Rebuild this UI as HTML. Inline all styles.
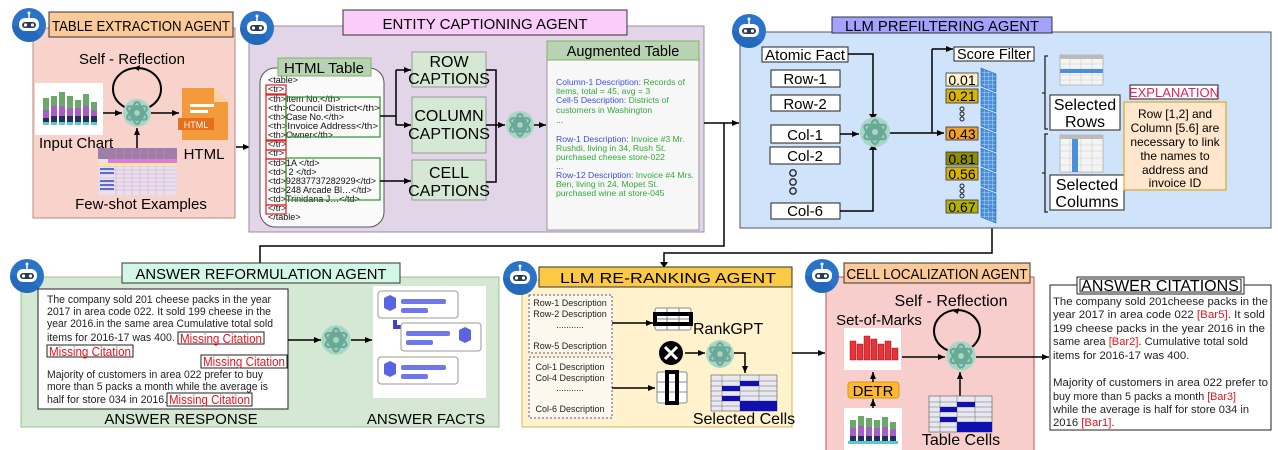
<!DOCTYPE html>
<html><head><meta charset="utf-8"><style>
html,body{margin:0;padding:0;background:#fff;}
svg{display:block;}
text{font-family:"Liberation Sans",Arial,sans-serif;}
.mono{font-family:"Liberation Mono",monospace;}
</style></head><body>
<svg width="1278" height="450" viewBox="0 0 1278 450" xmlns="http://www.w3.org/2000/svg">
<defs>
<marker id="ar" markerWidth="8" markerHeight="8" refX="7" refY="4" orient="auto" markerUnits="userSpaceOnUse"><path d="M0,1 L7,4 L0,7 z" fill="#000"/></marker>
<g id="gpt">
<circle r="14" fill="#a9d6c6"/>
<g fill="none" stroke="#6aa996" stroke-width="2.2">
<ellipse rx="4" ry="9" transform="rotate(0) translate(0,-2)"/>
<ellipse rx="4" ry="9" transform="rotate(60) translate(0,-2)"/>
<ellipse rx="4" ry="9" transform="rotate(120) translate(0,-2)"/>
<ellipse rx="4" ry="9" transform="rotate(180) translate(0,-2)"/>
<ellipse rx="4" ry="9" transform="rotate(240) translate(0,-2)"/>
<ellipse rx="4" ry="9" transform="rotate(300) translate(0,-2)"/>
</g>
</g>
<g id="bot">
<circle r="17" fill="#2a73c9"/>
<path d="M-17,0 A17,17 0 0,0 12,12 L0,0z" fill="#1f5fae" opacity="0.5"/>
<line x1="0" y1="-12" x2="0" y2="-7" stroke="#fff" stroke-width="1.5"/>
<circle cx="0" cy="-12" r="1.5" fill="#fff"/>
<rect x="-10" y="-7" width="20" height="13" rx="6" fill="#fff"/>
<rect x="-7" y="-3" width="14" height="6" rx="3" fill="#2b3a55"/>
<circle cx="-3.5" cy="0" r="1.6" fill="#fff"/><circle cx="3.5" cy="0" r="1.6" fill="#fff"/>
</g>
<pattern id="bgrid" width="4" height="4" patternUnits="userSpaceOnUse"><rect width="4" height="4" fill="#4a8fd8"/><path d="M0,0H4M0,0V4" stroke="#cfe3fa" stroke-width="0.8"/></pattern>
</defs>

<!-- ============ TABLE EXTRACTION ============ -->
<rect x="33" y="28" width="202" height="190" fill="#f8d3cc" stroke="#b88a84"/>
<rect x="49" y="12" width="184" height="25" fill="#fcc998" stroke="#333"/>
<text x="141" y="31" font-size="15" text-anchor="middle" textLength="178" lengthAdjust="spacingAndGlyphs">TABLE EXTRACTION AGENT</text>
<use href="#bot" transform="translate(29,25)"/>
<text x="132" y="64" font-size="15" text-anchor="middle">Self - Reflection</text>
<ellipse cx="137" cy="89" rx="24" ry="21" fill="none" stroke="#000" stroke-width="2"/>
<path d="M134,68 l6,-3 l-1,6z" fill="#000"/>
<rect x="35" y="83" width="68" height="52" fill="#fff"/>
<g>
<rect x="43" y="98" width="6" height="12" fill="#6aa96a"/><rect x="43" y="110" width="6" height="8" fill="#a65fc6"/><rect x="43" y="118" width="6" height="4" fill="#23305e"/><rect x="43" y="122" width="6" height="3" fill="#5cc8c8"/>
<rect x="51" y="96" width="6" height="10" fill="#6aa96a"/><rect x="51" y="106" width="6" height="10" fill="#a65fc6"/><rect x="51" y="116" width="6" height="6" fill="#23305e"/><rect x="51" y="122" width="6" height="3" fill="#5cc8c8"/>
<rect x="59" y="92" width="6" height="14" fill="#6aa96a"/><rect x="59" y="106" width="6" height="10" fill="#a65fc6"/><rect x="59" y="116" width="6" height="6" fill="#23305e"/><rect x="59" y="122" width="6" height="3" fill="#5cc8c8"/>
<rect x="67" y="96" width="6" height="12" fill="#6aa96a"/><rect x="67" y="108" width="6" height="8" fill="#a65fc6"/><rect x="67" y="116" width="6" height="6" fill="#23305e"/><rect x="67" y="122" width="6" height="3" fill="#5cc8c8"/>
<rect x="75" y="100" width="6" height="8" fill="#6aa96a"/><rect x="75" y="108" width="6" height="8" fill="#a65fc6"/><rect x="75" y="116" width="6" height="6" fill="#23305e"/><rect x="75" y="122" width="6" height="3" fill="#5cc8c8"/>
<rect x="83" y="94" width="6" height="12" fill="#6aa96a"/><rect x="83" y="106" width="6" height="10" fill="#a65fc6"/><rect x="83" y="116" width="6" height="6" fill="#23305e"/><rect x="83" y="122" width="6" height="3" fill="#5cc8c8"/>
<rect x="91" y="102" width="6" height="8" fill="#6aa96a"/><rect x="91" y="110" width="6" height="6" fill="#a65fc6"/><rect x="91" y="116" width="6" height="6" fill="#23305e"/><rect x="91" y="122" width="6" height="3" fill="#5cc8c8"/>
</g>
<text x="39" y="148" font-size="15">Input Chart</text>
<line x1="103" y1="113" x2="122" y2="113" stroke="#000" stroke-width="1.5" marker-end="url(#ar)"/>
<use href="#gpt" transform="translate(137,113)"/>
<line x1="151" y1="113" x2="179" y2="113" stroke="#000" stroke-width="1.5" marker-end="url(#ar)"/>
<path d="M182,88 h32 l14,14 v38 h-46z" fill="#f39a3c"/>
<path d="M214,88 v14 h14z" fill="#fbd1a6"/>
<rect x="190" y="104" width="24" height="3" fill="#fff"/><rect x="190" y="110" width="18" height="3" fill="#fff"/>
<rect x="178" y="118" width="36" height="12" fill="#e56f1c"/>
<text x="196" y="128" font-size="9" fill="#fff" text-anchor="middle">HTML</text>
<text x="204" y="159" font-size="15" text-anchor="middle">HTML</text>
<rect x="98" y="148" width="79" height="47" fill="#e8e0ee"/>
<rect x="98" y="148" width="79" height="11" fill="#9f7fa8"/>
<rect x="108" y="159" width="69" height="5" fill="#e079e0"/>
<g stroke="#c9b" stroke-width="0.4">
<path d="M98,166H177M98,170H177M98,174H177M98,178H177M98,182H177M98,186H177M98,190H177"/>
<path d="M116,148V195M124,148V195M132,148V195M140,148V195M148,148V195M156,148V195M164,148V195"/>
</g>
<g fill="#5b6fc6"><rect x="100" y="168" width="14" height="2"/><rect x="100" y="172" width="14" height="2"/><rect x="100" y="180" width="14" height="2"/><rect x="100" y="184" width="14" height="2"/><rect x="100" y="188" width="14" height="2"/></g>
<rect x="98" y="163" width="79" height="3" fill="#f5e99a"/>
<line x1="137" y1="148" x2="137" y2="128" stroke="#000" stroke-width="1.5" marker-end="url(#ar)"/>
<text x="141" y="209" font-size="15" text-anchor="middle">Few-shot Examples</text>
<line x1="236" y1="147" x2="250" y2="147" stroke="#000" stroke-width="1.5" marker-end="url(#ar)"/>

<!-- ============ ENTITY CAPTIONING ============ -->
<rect x="249" y="26" width="455" height="206" fill="#e1d5e7" stroke="#9b8aa6"/>
<rect x="343" y="10" width="284" height="25" fill="#f9ccf9" stroke="#333"/>
<text x="485" y="29" font-size="15" text-anchor="middle" textLength="205" lengthAdjust="spacingAndGlyphs">ENTITY CAPTIONING AGENT</text>
<use href="#bot" transform="translate(257,28)"/>
<rect x="260" y="68" width="124" height="159" rx="15" fill="#fafafa" stroke="#555"/>
<rect x="278" y="58" width="93" height="18" fill="#b8d3b4" stroke="#82b366"/>
<text x="324" y="73" font-size="15" text-anchor="middle">HTML Table</text>
<g class="mono" font-size="9" fill="#111">
<text x="268" y="83">&lt;table&gt;</text>
<text x="268" y="92">&lt;tr&gt;</text>
<text x="268" y="102">&lt;th&gt;Item No.&lt;/th&gt;</text>
<text x="268" y="111" textLength="112" lengthAdjust="spacingAndGlyphs">&lt;th&gt;Council District&lt;/th&gt;</text>
<text x="268" y="120">&lt;th&gt;Case No.&lt;/th&gt;</text>
<text x="268" y="129" textLength="110" lengthAdjust="spacingAndGlyphs">&lt;th&gt;Invoice Address&lt;/th&gt;</text>
<text x="268" y="138">&lt;th&gt;Owner&lt;/th&gt;</text>
<text x="268" y="147">&lt;/tr&gt;</text>
<text x="268" y="156">&lt;tr&gt;</text>
<text x="268" y="166">&lt;td&gt;1A &lt;/td&gt;</text>
<text x="268" y="175">&lt;td&gt; 2 &lt;/td&gt;</text>
<text x="268" y="184" textLength="108" lengthAdjust="spacingAndGlyphs">&lt;td&gt;92837737282929&lt;/td&gt;</text>
<text x="268" y="193">&lt;td&gt;248 Arcade Bl…&lt;/td&gt;</text>
<text x="268" y="202">&lt;td&gt;Trinidana J…&lt;/td&gt;</text>
<text x="268" y="211">&lt;/tr&gt;</text>
<text x="268" y="220">&lt;/table&gt;</text>
</g>
<g fill="none" stroke="#e02020" stroke-width="1.2">
<rect x="266" y="85" width="20" height="9"/>
<rect x="266" y="95" width="20" height="45"/>
<rect x="266" y="141" width="20" height="9"/>
<rect x="266" y="150" width="20" height="9"/>
<rect x="266" y="159" width="20" height="46"/>
<rect x="266" y="205" width="20" height="9"/>
</g>
<g fill="none" stroke="#2a9a2a" stroke-width="1.2">
<rect x="286" y="97" width="94" height="40"/>
<rect x="286" y="158" width="94" height="42"/>
</g>
<rect x="412" y="52" width="74" height="35" fill="#d5e8d4" stroke="#999"/>
<text x="449" y="67" font-size="16" text-anchor="middle">ROW</text>
<text x="449" y="84" font-size="16" text-anchor="middle">CAPTIONS</text>
<rect x="412" y="97" width="74" height="56" fill="#d5e8d4" stroke="#999"/>
<text x="449" y="121" font-size="16" text-anchor="middle">COLUMN</text>
<text x="449" y="139" font-size="16" text-anchor="middle">CAPTIONS</text>
<rect x="412" y="160" width="74" height="40" fill="#d5e8d4" stroke="#999"/>
<text x="449" y="178" font-size="16" text-anchor="middle">CELL</text>
<text x="449" y="196" font-size="16" text-anchor="middle">CAPTIONS</text>
<g stroke="#000" stroke-width="1.5" fill="none">
<path d="M380,116 H396 M396,70 V125"/>
<line x1="396" y1="70" x2="411" y2="70" marker-end="url(#ar)"/>
<line x1="396" y1="125" x2="411" y2="125" marker-end="url(#ar)"/>
<line x1="380" y1="181" x2="411" y2="181" marker-end="url(#ar)"/>
<path d="M486,70 H496 V182 H486"/>
<line x1="486" y1="125" x2="505" y2="125" marker-end="url(#ar)"/>
<line x1="534" y1="125" x2="546" y2="125" marker-end="url(#ar)"/>
</g>
<use href="#gpt" transform="translate(520,125)"/>
<rect x="547" y="48" width="152" height="182" fill="#f7f7f7" stroke="#999"/>
<rect x="547" y="41" width="152" height="19" fill="#b8d3b4" stroke="#82b366"/>
<text x="623" y="56" font-size="14.5" text-anchor="middle">Augmented Table</text>
<g font-size="8.6">
<text x="556" y="85"><tspan fill="#3b4fe0">Column-1 Description:</tspan><tspan fill="#2faa3a"> Records of</tspan></text>
<text x="556" y="94" fill="#2faa3a">items, total = 45, avg = 3</text>
<text x="556" y="103"><tspan fill="#3b4fe0">Cell-5 Description:</tspan><tspan fill="#2faa3a"> Districts of</tspan></text>
<text x="556" y="113" fill="#2faa3a">customers in Washington</text>
<text x="556" y="123" fill="#555">...</text>
<text x="556" y="142"><tspan fill="#3b4fe0">Row-1 Description:</tspan><tspan fill="#2faa3a"> Invoice #3 Mr.</tspan></text>
<text x="556" y="151" fill="#2faa3a">Rushdi, living in 34, Rush St.</text>
<text x="556" y="160" fill="#2faa3a">purchased cheese store-022</text>
<text x="556" y="169" fill="#555">...</text>
<text x="556" y="178"><tspan fill="#3b4fe0">Row-12 Description:</tspan><tspan fill="#2faa3a"> Invoice #4 Mrs.</tspan></text>
<text x="556" y="187" fill="#2faa3a">Ben, living in 24, Mopet St.</text>
<text x="556" y="196" fill="#2faa3a">purchased wine at store-045</text>
</g>

<g stroke="#000" stroke-width="1.5" fill="none">
<line x1="704" y1="123" x2="739" y2="123" marker-end="url(#ar)"/>
<path d="M724,123 V246 H260 V263"/>
<path d="M992,228 V253 H664 V264"/>
</g>
<path d="M660,262 l4,6 l4,-6z" fill="#000"/>

<!-- ============ PREFILTER ============ -->
<rect x="740" y="32" width="531" height="196" fill="#cfe3fb" stroke="#555"/>
<rect x="832" y="17" width="220" height="16" fill="#a3a3ff" stroke="#333"/>
<text x="942" y="31" font-size="15" text-anchor="middle" textLength="194" lengthAdjust="spacingAndGlyphs">LLM PREFILTERING AGENT</text>
<use href="#bot" transform="translate(749,31)"/>
<g fill="#fff" stroke="#222">
<rect x="762" y="47" width="86" height="15"/>
<rect x="771" y="70" width="69" height="17"/>
<rect x="771" y="95" width="69" height="16"/>
<rect x="771" y="125" width="69" height="18"/>
<rect x="770" y="147" width="70" height="17"/>
<rect x="771" y="203" width="69" height="16"/>
</g>
<g font-size="15" text-anchor="middle">
<text x="805" y="60" textLength="80" lengthAdjust="spacingAndGlyphs">Atomic Fact</text>
<text x="805" y="84">Row-1</text>
<text x="805" y="109">Row-2</text>
<text x="805" y="140">Col-1</text>
<text x="805" y="161">Col-2</text>
<text x="805" y="216">Col-6</text>
</g>
<g fill="none" stroke="#222" stroke-width="1.3"><circle cx="793" cy="173" r="3.2"/><circle cx="793" cy="182" r="3.2"/><circle cx="793" cy="191" r="3.2"/></g>
<g stroke="#000" stroke-width="1.5" fill="none">
<path d="M848,54 H873 V116"/>
<path d="M840,211 H873 V148"/>
<line x1="840" y1="134" x2="859" y2="134" marker-end="url(#ar)"/>
<line x1="889" y1="133" x2="944" y2="133" marker-end="url(#ar)"/>
<path d="M932,133 V49"/>
<line x1="932" y1="49" x2="953" y2="49" marker-end="url(#ar)"/>
</g>
<path d="M869,114 l4,6 l4,-6z M869,150 l4,-6 l4,6z" fill="#000"/>
<use href="#gpt" transform="translate(875,132) scale(1.08)"/>
<rect x="954" y="47" width="80" height="14" fill="#fff" stroke="#222"/>
<text x="994" y="59" font-size="15" text-anchor="middle" textLength="74" lengthAdjust="spacingAndGlyphs">Score Filter</text>
<g stroke="#333" stroke-width="0.8">
<rect x="946" y="73" width="32" height="13" fill="#fff2cc"/>
<rect x="946" y="89" width="32" height="14" fill="#d9b700"/>
<rect x="946" y="127" width="32" height="13" fill="#f0a02a"/>
<rect x="946" y="152" width="32" height="13" fill="#8e8e00"/>
<rect x="946" y="167" width="32" height="13" fill="#d5b300"/>
<rect x="946" y="200" width="32" height="13" fill="#b5b300"/>
</g>
<g font-size="14" text-anchor="middle">
<text x="962" y="85">0.01</text><text x="962" y="101">0.21</text><text x="962" y="139">0.43</text>
<text x="962" y="164">0.81</text><text x="962" y="179">0.56</text><text x="962" y="212">0.67</text>
</g>
<g fill="none" stroke="#222" stroke-width="1"><circle cx="962" cy="109" r="2"/><circle cx="962" cy="114" r="2"/><circle cx="962" cy="119" r="2"/><circle cx="962" cy="186" r="2"/><circle cx="962" cy="191" r="2"/><circle cx="962" cy="196" r="2"/></g>
<g stroke="#2a6cb8" stroke-width="0.6">
<path d="M981,68 L996,74 V92 L981,86z" fill="url(#bgrid)"/>
<path d="M981,88 L996,94 V112 L981,106z" fill="url(#bgrid)"/>
<path d="M981,108 L996,114 V132 L981,126z" fill="url(#bgrid)"/>
<path d="M981,128 L996,134 V152 L981,146z" fill="url(#bgrid)"/>
<path d="M981,148 L996,154 V172 L981,166z" fill="url(#bgrid)"/>
<path d="M981,168 L996,174 V192 L981,186z" fill="url(#bgrid)"/>
<path d="M981,188 L996,194 V212 L981,206z" fill="url(#bgrid)"/>
<path d="M981,205 L996,211 V223 L981,217z" fill="url(#bgrid)"/>
</g>
<g fill="none" stroke="#222" stroke-width="1.3">
<path d="M1048,56 h-3 v73 h3 M1045,93 h-3"/>
<path d="M1048,134 h-3 v78 h3 M1045,173 h-3"/>
</g>
<g>
<rect x="1060" y="55" width="43" height="30" fill="#f4f4f4" stroke="#bbb"/>
<rect x="1060" y="55" width="43" height="4" fill="#bbb"/>
<path d="M1060,64H1103M1060,69H1103M1060,75H1103M1060,80H1103M1070,59V85M1081,59V85M1092,59V85" stroke="#ccc" stroke-width="0.6"/>
<rect x="1060" y="69" width="43" height="4" fill="#4a90d9"/>
<rect x="1060" y="135" width="43" height="37" fill="#f4f4f4" stroke="#bbb"/>
<rect x="1060" y="135" width="43" height="4" fill="#bbb"/>
<path d="M1060,145H1103M1060,151H1103M1060,158H1103M1060,165H1103M1070,139V172M1081,139V172M1092,139V172" stroke="#ccc" stroke-width="0.6"/>
<rect x="1072" y="139" width="6" height="33" fill="#4a90d9"/>
</g>
<rect x="1050" y="95" width="70" height="35" fill="#fff" stroke="#222"/>
<text x="1085" y="110" font-size="16" text-anchor="middle">Selected</text>
<text x="1085" y="127" font-size="16" text-anchor="middle">Rows</text>
<rect x="1050" y="175" width="74" height="35" fill="#fff" stroke="#222"/>
<text x="1087" y="190" font-size="16" text-anchor="middle">Selected</text>
<text x="1087" y="207" font-size="16" text-anchor="middle">Columns</text>
<rect x="1130" y="85" width="88" height="14" fill="#fff" stroke="#222"/>
<text x="1174" y="97" font-size="13" fill="#e0245e" text-anchor="middle">EXPLANATION</text>
<rect x="1124" y="102" width="102" height="88" fill="#ffe6cc" stroke="#d79b00"/>
<g font-size="12" text-anchor="middle">
<text x="1175" y="118">Row [1,2] and</text>
<text x="1175" y="132">Column [5.6] are</text>
<text x="1175" y="146">necessary to link</text>
<text x="1175" y="160">the names to</text>
<text x="1175" y="174">address and</text>
<text x="1175" y="187">invoice ID</text>
</g>

<!-- ============ ANSWER REFORMULATION ============ -->
<rect x="21" y="277" width="478" height="150" fill="#d5e8d4" stroke="#9bbf93"/>
<rect x="122" y="263" width="278" height="20" fill="#d3f7e6" stroke="#333"/>
<text x="261" y="279" font-size="15" text-anchor="middle" textLength="251" lengthAdjust="spacingAndGlyphs">ANSWER REFORMULATION AGENT</text>
<use href="#bot" transform="translate(27,276)"/>
<rect x="38" y="289" width="250" height="120" fill="#fff" stroke="#222"/>
<g font-size="10.6" fill="#222">
<text x="47" y="303" textLength="224" lengthAdjust="spacingAndGlyphs">The company sold 201 cheese packs in the year</text>
<text x="47" y="315" textLength="224" lengthAdjust="spacingAndGlyphs">2017 in area code 022. It sold 199 cheese in the</text>
<text x="47" y="327" textLength="226" lengthAdjust="spacingAndGlyphs">year 2016.in the same area Cumulative total sold</text>
<text x="47" y="341">items for 2016-17 was 400.</text>
<text x="47" y="378" textLength="216" lengthAdjust="spacingAndGlyphs">Majority of customers in area 022 prefer to buy</text>
<text x="47" y="390" textLength="221" lengthAdjust="spacingAndGlyphs">more than 5 packs a month while the average is</text>
<text x="47" y="403">half for store 034 in 2016.</text>
</g>
<g fill="#fff" stroke="#222"><rect x="178" y="332" width="86" height="12"/><rect x="47" y="345" width="86" height="12"/><rect x="201" y="355" width="86" height="13"/><rect x="167" y="393" width="85" height="13"/></g>
<g font-size="12.5" fill="#e8141e">
<text x="180" y="343" textLength="82" lengthAdjust="spacingAndGlyphs">Missing Citation</text>
<text x="49" y="356" textLength="82" lengthAdjust="spacingAndGlyphs">Missing Citation</text>
<text x="203" y="366" textLength="82" lengthAdjust="spacingAndGlyphs">Missing Citation</text>
<text x="169" y="404" textLength="81" lengthAdjust="spacingAndGlyphs">Missing Citation</text>
</g>
<g stroke="#000" stroke-width="1.5"><line x1="288" y1="340" x2="321" y2="340" marker-end="url(#ar)"/><line x1="351" y1="340" x2="372" y2="340" marker-end="url(#ar)"/></g>
<use href="#gpt" transform="translate(336,340) scale(1.05)"/>
<rect x="373" y="286" width="113" height="112" fill="#fff"/>
<path d="M395,320 V327 H445 V336 M445,360 V370 H395 V378" fill="none" stroke="#3d46c4" stroke-width="4"/>
<g fill="#fff" stroke="#999"><rect x="378" y="291" width="80" height="27" rx="3"/><rect x="401" y="323" width="80" height="28" rx="3"/><rect x="378" y="357" width="80" height="27" rx="3"/></g>
<g fill="#5a63e0"><path d="M384,298 l6,-3 l6,3 v10 l-6,3 l-6,-3z"/><path d="M459,330 l6,-3 l6,3 v10 l-6,3 l-6,-3z"/><path d="M384,364 l6,-3 l6,3 v10 l-6,3 l-6,-3z"/></g>
<g fill="#6f78ea"><rect x="401" y="299" width="45" height="5" rx="2"/><rect x="401" y="308" width="27" height="5" rx="2"/><rect x="406" y="331" width="44" height="5" rx="2"/><rect x="406" y="340" width="27" height="5" rx="2"/><rect x="401" y="365" width="45" height="5" rx="2"/><rect x="401" y="374" width="27" height="5" rx="2"/></g>
<text x="181" y="424" font-size="15" text-anchor="middle">ANSWER RESPONSE</text>
<text x="426" y="424" font-size="15" text-anchor="middle">ANSWER FACTS</text>

<!-- ============ RE-RANKING ============ -->
<rect x="522" y="280" width="270" height="147" fill="#fff2cc" stroke="#d6b656"/>
<rect x="539" y="267" width="253" height="20" fill="#fcc944" stroke="#333"/>
<text x="668" y="283" font-size="15" text-anchor="middle" textLength="216" lengthAdjust="spacingAndGlyphs">LLM RE-RANKING AGENT</text>
<use href="#bot" transform="translate(520,278)"/>
<g fill="#fcf8ee" stroke="#5a4fa0" stroke-dasharray="2,2"><rect x="529" y="295" width="83" height="58"/><rect x="529" y="357" width="83" height="61"/></g>
<g font-size="9" text-anchor="middle" fill="#222">
<text x="570" y="306">Row-1 Description</text>
<text x="570" y="317">Row-2 Description</text>
<text x="570" y="328">...........</text>
<text x="570" y="349">Row-5 Description</text>
<text x="570" y="370">Col-1 Description</text>
<text x="570" y="381">Col-4 Description</text>
<text x="570" y="391">...........</text>
<text x="570" y="412">Col-6 Description</text>
</g>
<g stroke="#000" stroke-width="1.5"><line x1="612" y1="323" x2="653" y2="323" marker-end="url(#ar)"/><line x1="612" y1="388" x2="655" y2="388" marker-end="url(#ar)"/><line x1="685" y1="353" x2="705" y2="353" marker-end="url(#ar)"/>
<path d="M734,353 H745 V373" fill="none" marker-end="url(#ar)"/></g>
<rect x="655" y="308" width="36" height="22" fill="#fff" stroke="#888" rx="2"/>
<path d="M667,308V330M679,308V330M655,319H691" stroke="#888"/>
<rect x="655" y="314" width="36" height="10" fill="none" stroke="#000" stroke-width="4"/>
<rect x="657" y="372" width="30" height="31" fill="#fff" stroke="#888" rx="2"/>
<path d="M667,372V403M677,372V403M657,382H687M657,392H687" stroke="#888"/>
<rect x="667" y="372" width="10" height="31" fill="none" stroke="#000" stroke-width="4"/>
<circle cx="671" cy="353" r="12" fill="#000"/>
<path d="M665,347L677,359M677,347L665,359" stroke="#fff" stroke-width="3"/>
<text x="693" y="334" font-size="16">RankGPT</text>
<use href="#gpt" transform="translate(720,354)"/>
<g>
<rect x="711" y="375" width="66" height="36" fill="#e8e8f0" stroke="#555" stroke-width="0.6"/>
<path d="M711,381H777M711,386H777M711,391H777M711,396H777M711,401H777M711,406H777M722,375V411M740,375V411M759,375V411" stroke="#666" stroke-width="0.5"/>
<g fill="#1010b0"><rect x="722" y="386" width="18" height="5"/><rect x="740" y="381" width="19" height="5"/><rect x="722" y="396" width="18" height="5"/><rect x="740" y="401" width="37" height="10"/></g>
</g>
<text x="744" y="424" font-size="16" text-anchor="middle">Selected Cells</text>
<line x1="792" y1="353" x2="825" y2="353" stroke="#000" stroke-width="1.5" marker-end="url(#ar)"/>

<!-- ============ CELL LOCALIZATION ============ -->
<rect x="826" y="277" width="208" height="180" fill="#f8cecc" stroke="#b85450"/>
<rect x="844" y="263" width="186" height="20" fill="#fcc998" stroke="#333"/>
<text x="937" y="279" font-size="15" text-anchor="middle" textLength="181" lengthAdjust="spacingAndGlyphs">CELL LOCALIZATION AGENT</text>
<use href="#bot" transform="translate(822,276)"/>
<text x="951" y="306" font-size="16" text-anchor="middle">Self - Reflection</text>
<ellipse cx="957" cy="331" rx="23" ry="21" fill="none" stroke="#000" stroke-width="2"/>
<path d="M953,311 l6,-3 l-1,6z" fill="#000"/>
<text x="879" y="325" font-size="15" text-anchor="middle">Set-of-Marks</text>
<rect x="844" y="328" width="57" height="42" fill="#fff"/>
<g fill="#e8333a" stroke="#800" stroke-width="0.4"><rect x="850" y="341" width="6" height="19"/><rect x="857" y="344" width="6" height="16"/><rect x="864" y="336" width="6" height="24"/><rect x="871" y="339" width="6" height="21"/><rect x="878" y="344" width="6" height="16"/><rect x="885" y="341" width="6" height="19"/><rect x="892" y="348" width="6" height="12"/></g>
<line x1="902" y1="357" x2="945" y2="357" stroke="#000" stroke-width="1.5" marker-end="url(#ar)"/>
<use href="#gpt" transform="translate(961,356) scale(1.05)"/>
<rect x="848" y="382" width="51" height="16" rx="3" fill="#ffb833" stroke="#d79b00"/>
<text x="873" y="396" font-size="15" text-anchor="middle">DETR</text>
<g stroke="#000" stroke-width="1.5"><line x1="873" y1="382" x2="873" y2="372" marker-end="url(#ar)"/><line x1="873" y1="408" x2="873" y2="399" marker-end="url(#ar)"/><line x1="960" y1="396" x2="960" y2="372" marker-end="url(#ar)"/></g>
<rect x="844" y="408" width="58" height="42" fill="#fff"/>
<g><rect x="850" y="420" width="6" height="8" fill="#6aa96a"/><rect x="850" y="428" width="6" height="8" fill="#a65fc6"/><rect x="850" y="436" width="6" height="5" fill="#23305e"/>
<rect x="858" y="416" width="6" height="10" fill="#6aa96a"/><rect x="858" y="426" width="6" height="10" fill="#a65fc6"/><rect x="858" y="436" width="6" height="5" fill="#23305e"/>
<rect x="866" y="418" width="6" height="9" fill="#6aa96a"/><rect x="866" y="427" width="6" height="9" fill="#a65fc6"/><rect x="866" y="436" width="6" height="5" fill="#23305e"/>
<rect x="874" y="420" width="6" height="8" fill="#6aa96a"/><rect x="874" y="428" width="6" height="8" fill="#a65fc6"/><rect x="874" y="436" width="6" height="5" fill="#23305e"/>
<rect x="882" y="417" width="6" height="10" fill="#6aa96a"/><rect x="882" y="427" width="6" height="9" fill="#a65fc6"/><rect x="882" y="436" width="6" height="5" fill="#23305e"/>
<rect x="890" y="422" width="6" height="7" fill="#6aa96a"/><rect x="890" y="429" width="6" height="7" fill="#a65fc6"/><rect x="890" y="436" width="6" height="5" fill="#23305e"/>
<rect x="848" y="441" width="50" height="3" fill="#5cc8c8"/></g>
<rect x="929" y="396" width="63" height="36" fill="#e8e8f0" stroke="#555" stroke-width="0.6"/>
<path d="M929,402H992M929,407H992M929,412H992M929,417H992M929,422H992M929,427H992M940,396V432M957,396V432M975,396V432" stroke="#666" stroke-width="0.5"/>
<g fill="#1010b0"><rect x="940" y="407" width="17" height="5"/><rect x="957" y="402" width="18" height="5"/><rect x="940" y="417" width="17" height="5"/><rect x="957" y="422" width="35" height="10"/></g>
<text x="961" y="445" font-size="16" text-anchor="middle">Table Cells</text>
<line x1="976" y1="357" x2="1049" y2="357" stroke="#000" stroke-width="1.5" marker-end="url(#ar)"/>

<!-- ============ ANSWER CITATIONS ============ -->
<rect x="1050" y="285" width="221" height="145" fill="#fff" stroke="#222"/>
<rect x="1077" y="277" width="167" height="17" fill="#fff" stroke="#222"/>
<rect x="1080" y="279" width="161" height="13" fill="none" stroke="#222"/>
<text x="1160" y="291" font-size="16" text-anchor="middle">ANSWER CITATIONS</text>
<g font-size="11.3" fill="#222">
<text x="1053" y="305" textLength="215" lengthAdjust="spacingAndGlyphs">The company sold 201cheese packs in the</text>
<text x="1053" y="318" textLength="212" lengthAdjust="spacingAndGlyphs">year 2017 in area code 022 <tspan fill="#e8141e">[Bar5]</tspan>. It sold</text>
<text x="1053" y="332" textLength="212" lengthAdjust="spacingAndGlyphs">199 cheese packs in the year 2016 in the</text>
<text x="1053" y="345" textLength="195" lengthAdjust="spacingAndGlyphs">same area <tspan fill="#e8141e">[Bar2]</tspan>. Cumulative total sold</text>
<text x="1053" y="359">items for 2016-17 was 400.</text>
<text x="1053" y="386" textLength="215" lengthAdjust="spacingAndGlyphs">Majority of customers in area 022 prefer to</text>
<text x="1053" y="400" textLength="183" lengthAdjust="spacingAndGlyphs">buy more than 5 packs a month <tspan fill="#e8141e">[Bar3]</tspan></text>
<text x="1053" y="413" textLength="196" lengthAdjust="spacingAndGlyphs">while the average is half for store 034 in</text>
<text x="1053" y="426">2016 <tspan fill="#e8141e">[Bar1]</tspan>.</text>
</g>
</svg>
</body></html>
